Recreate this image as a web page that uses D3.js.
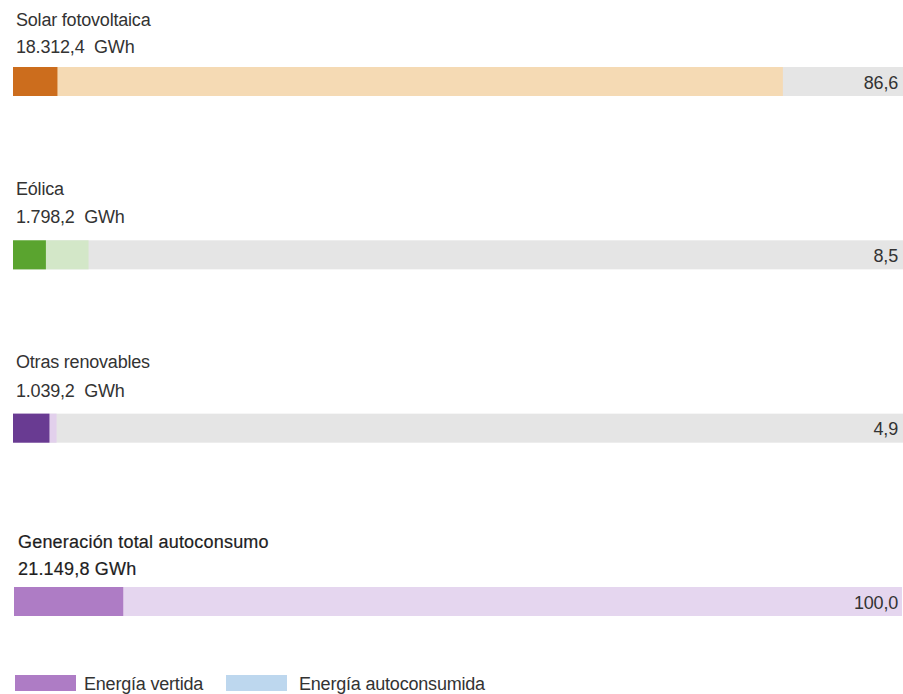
<!DOCTYPE html>
<html><head><meta charset="utf-8">
<script src="https://cdn.jsdelivr.net/npm/d3@7/dist/d3.min.js"></script>
<style>
html,body{margin:0;padding:0;background:#fff;}
svg{display:block;}
text{font-family:"Liberation Sans",Arial,sans-serif;}
</style></head>
<body><svg id="chart" width="903" height="694"></svg>
<script>
const categories = ["Solar fotovoltaica", "Eólica", "Otras renovables", "Generación total autoconsumo"];
const generationGWh = [18312.4, 1798.2, 1039.2, 21149.8];
const sharePct = [86.6, 8.5, 4.9, 100.0];
const vertidaPct = [5.0, 3.7, 4.1, 12.4];
const darkColors = ["#CC6D1D", "#5AA42F", "#693B92", "#AE7CC5"];
const lightColors = ["#F5DAB4", "#D3E7C8", "#E2D0EC", "#E5D6EF"];
const legendLabels = ["Energía vertida", "Energía autoconsumida"];
const legendColors = ["#AE7CC5", "#BDD7EE"];

const locale = d3.formatLocale({decimal: ",", thousands: ".", grouping: [3], currency: ["", "€"]});
const fmtGWh = locale.format(",.1f");
const fmtPct = locale.format(".1f");

const svg = d3.select("#chart");
const x = d3.scaleLinear().domain([0, 100]).range([13, 902]);
const rowY = d3.scalePoint().domain(categories).range([67, 587]);
const barH = 29;
const titleOff = [-41, -45, -46, -39];
const valueOff = [-14, -17, -17, -12];

function label(parent, tx, ty, str, opts = {}) {
  const t = parent.append("text")
    .attr("x", tx).attr("y", ty)
    .attr("font-size", opts.size || 18)
    .attr("fill", opts.fill || "#333")
    .attr("text-anchor", opts.anchor || "start")
    .attr("letter-spacing", opts.ls !== undefined ? opts.ls : -0.2)
    .attr("xml:space", "preserve")
    .text(str);
  if (opts.stroke) t.attr("stroke", opts.fill).attr("stroke-width", opts.stroke);
  return t;
}

const rows = svg.selectAll("g.row").data(categories).enter().append("g").attr("class", "row")
  .attr("transform", d => `translate(0,${rowY(d)})`);

rows.each(function(d, i) {
  const g = d3.select(this);
  const isTotal = i === categories.length - 1;
  const x0 = isTotal ? x(0) + 1 : x(0);
  if (!isTotal) {
    g.append("rect").attr("x", x0).attr("y", 0).attr("width", 903 - x0).attr("height", barH).attr("fill", "#E5E5E5");
  }
  g.append("rect").attr("x", x0).attr("y", 0).attr("width", x(sharePct[i]) - x0).attr("height", barH).attr("fill", lightColors[i]);
  g.append("rect").attr("x", x0).attr("y", 0).attr("width", x(vertidaPct[i]) - x0).attr("height", barH).attr("fill", darkColors[i]);
  label(g, 898, barH / 2 + 7, fmtPct(sharePct[i]), {anchor: "end"});
  const tx = isTotal ? 18 : 16;
  const col = isTotal ? "#1e1e1e" : "#333";
  const opts = isTotal ? {fill: col, ls: 0.2, stroke: 0.2} : {fill: col};
  label(g, tx, titleOff[i], d, opts);
  label(g, tx, valueOff[i], fmtGWh(generationGWh[i]) + (isTotal ? " GWh" : "  GWh"), opts);
});

const legend = svg.append("g").attr("transform", "translate(15,675)");
const lx = [0, 211];
const ltx = [69, 73];
legendLabels.forEach((lab, i) => {
  legend.append("rect").attr("x", lx[i]).attr("y", 0).attr("width", 61).attr("height", 16).attr("fill", legendColors[i]);
  label(legend, lx[i] + ltx[i], 15, lab);
});
</script></body></html>
